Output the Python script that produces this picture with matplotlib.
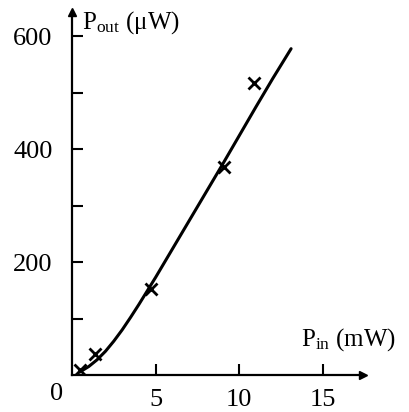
import matplotlib.pyplot as plt

plt.rcParams['font.family'] = ['Liberation Serif', 'DejaVu Serif']
plt.rcParams['mathtext.fontset'] = 'custom'
plt.rcParams['mathtext.rm'] = 'Liberation Serif'

# measured points (P_in in mW, P_out in uW)
p_in = [0.5, 1.4, 4.7, 9.1, 10.9]
p_out = [8, 37, 153, 368, 518]

# fitted curve
curve_x = [0.45, 1.0, 1.5, 2.0, 2.5, 3.0, 3.5, 4.0, 4.5, 5.0, 6.0, 7.0,
           8.0, 9.0, 10.0, 11.0, 12.0, 13.1]
curve_y = [5, 15, 27, 42, 60, 80, 102, 125, 149, 173, 223, 273,
           323, 373, 424, 475, 525, 578]

x_ticks = [5, 10, 15]
y_ticks = [200, 400, 600]

fig = plt.figure(figsize=(4.09, 4.12), dpi=100)
ax = fig.add_axes([72 / 409, 37 / 412, 291 / 409, 363 / 412])

ax.plot(curve_x, curve_y, color='black', lw=2.2, solid_capstyle='round')
ax.plot(p_in, p_out, 'x', color='black', ms=9, mew=2)

ax.set_xlim(0, 17.4)
ax.set_ylim(0, 643)

for s in ['top', 'right']:
    ax.spines[s].set_visible(False)
for s in ['left', 'bottom']:
    ax.spines[s].set_linewidth(1.6)

# arrow heads on the axes
ax.plot(1, 0, '>', color='black', ms=6, transform=ax.transAxes, clip_on=False)
ax.plot(0, 1, '^', color='black', ms=6, transform=ax.transAxes, clip_on=False)

ax.set_xticks(x_ticks)
ax.set_yticks(y_ticks)
ax.set_yticks([100, 300, 500], minor=True)
ax.tick_params(direction='in', length=8, width=1.5, labelsize=19, pad=10)
ax.tick_params(which='minor', direction='in', length=8, width=1.5)
ax.tick_params(axis='y', pad=14)

ax.text(-0.55, -14, '0', fontsize=19, ha='right', va='top')
ax.text(0.6, 625, r'$\mathregular{P_{out}}$ (μW)', fontsize=18, ha='left', va='center')
ax.text(13.7, 62, r'$\mathregular{P_{in}}$ (mW)', fontsize=18, ha='left', va='center')

fig.savefig('out.png', dpi=100)
